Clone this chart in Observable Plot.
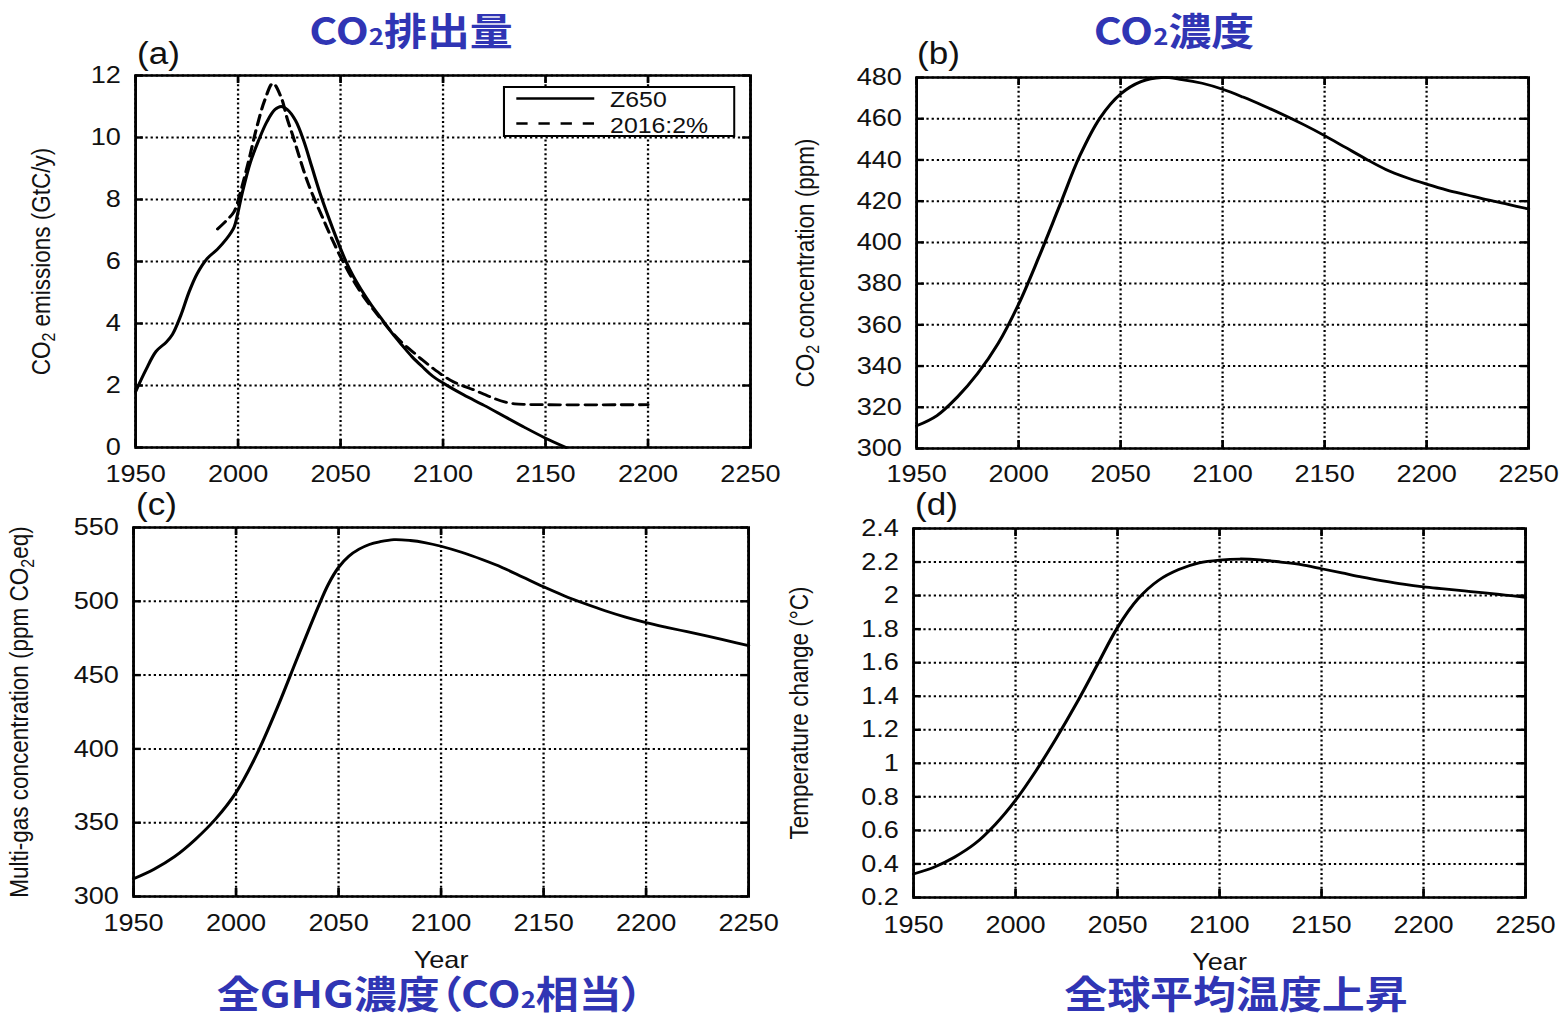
<!DOCTYPE html>
<html>
<head>
<meta charset="utf-8">
<script src="https://cdn.jsdelivr.net/npm/d3@7"></script>
<script src="https://cdn.jsdelivr.net/npm/@observablehq/plot@0.6"></script>
<style>
html, body { margin: 0; padding: 0; background: #fff; width: 1567px; height: 1016px; overflow: hidden; }
#page { position: absolute; left: 0; top: 0; width: 1387px; height: 1016px; transform-origin: 0 0; transform: scaleX(1.12978); }
.panel { position: absolute; }
.panel svg { overflow: visible; }
.title { position: absolute; width: 600px; text-align: center; font-family: "Noto Sans CJK JP", sans-serif; font-weight: 700; font-size: 38px; line-height: 1; color: #3035b4; white-space: nowrap; }
.title .sub { font-size: 0.6em; }
.letter { position: absolute; font-family: "Liberation Sans", Arial, sans-serif; font-size: 31px; line-height: 1; color: #111; }
</style>
</head>
<body>
<div id="page"></div>
<script>
// ---------------- DATA ----------------
const xTicks = [1950, 2000, 2050, 2100, 2150, 2200, 2250];
const yTicksA = [0, 2, 4, 6, 8, 10, 12];
const yTicksB = [300, 320, 340, 360, 380, 400, 420, 440, 460, 480];
const yTicksC = [300, 350, 400, 450, 500, 550];
const yTicksD = [0.2, 0.4, 0.6, 0.8, 1.0, 1.2, 1.4, 1.6, 1.8, 2.0, 2.2, 2.4];

const seriesNames = ["Z650", "2016:2%"];

// (a) CO2 emissions (GtC/y), scenario Z650 (solid)
const yearsZ650 = [1950, 1955, 1960, 1965, 1968, 1972, 1976, 1980, 1985, 1990, 1994, 1998, 2000, 2002, 2006, 2010, 2014, 2018, 2021, 2024, 2028, 2032, 2036, 2040, 2044, 2048, 2052, 2056, 2060, 2065, 2070, 2075, 2080, 2085, 2090, 2095, 2100, 2110, 2120, 2130, 2140, 2150, 2160];
const emisZ650  = [1.8, 2.5, 3.1, 3.4, 3.65, 4.25, 5.0, 5.6, 6.1, 6.4, 6.7, 7.1, 7.6, 8.2, 9.2, 9.9, 10.5, 10.9, 11.0, 10.9, 10.55, 9.9, 9.05, 8.2, 7.45, 6.75, 6.1, 5.55, 5.1, 4.6, 4.15, 3.7, 3.3, 2.92, 2.6, 2.3, 2.08, 1.7, 1.36, 1.0, 0.64, 0.3, 0.0];

// (a) CO2 emissions, scenario 2016:2% (dashed)
const years2016 = [1990, 1994, 1998, 2001, 2005, 2009, 2013, 2017, 2021, 2024, 2027, 2030, 2034, 2038, 2042, 2046, 2050, 2054, 2058, 2062, 2066, 2070, 2075, 2080, 2085, 2090, 2095, 2100, 2105, 2110, 2115, 2120, 2125, 2130, 2135, 2140, 2150, 2200];
const emis2016  = [7.05, 7.3, 7.6, 8.2, 9.2, 10.3, 11.2, 11.75, 11.3, 10.6, 10.0, 9.35, 8.55, 7.9, 7.3, 6.7, 6.15, 5.65, 5.2, 4.8, 4.45, 4.12, 3.72, 3.38, 3.1, 2.82, 2.56, 2.32, 2.12, 1.98, 1.86, 1.72, 1.58, 1.47, 1.41, 1.39, 1.38, 1.38];

// (b) CO2 concentration (ppm)
const yearsB = [1950, 1960, 1970, 1980, 1990, 2000, 2010, 2020, 2030, 2040, 2050, 2060, 2070, 2080, 2090, 2100, 2110, 2120, 2130, 2140, 2150, 2160, 2170, 2180, 2190, 2200, 2210, 2220, 2230, 2240, 2250];
const co2Conc = [311, 316, 325, 336.5, 351, 370, 393, 417.5, 442, 460.5, 472, 478, 480, 479, 477.2, 474.3, 470.5, 466.3, 461.8, 457, 451.8, 446.2, 440.6, 435.4, 431.5, 428.3, 425.4, 423, 420.6, 418.4, 416.2];

// (c) Multi-gas concentration (ppm CO2eq)
const yearsC = [1950, 1960, 1970, 1980, 1990, 2000, 2010, 2020, 2030, 2040, 2045, 2050, 2055, 2060, 2065, 2070, 2077, 2085, 2092, 2100, 2110, 2120, 2130, 2140, 2150, 2160, 2170, 2180, 2190, 2200, 2210, 2220, 2230, 2240, 2250];
const ghgConc = [312, 318.5, 327, 338.5, 352.5, 370.5, 396, 427.5, 462, 496, 511.5, 523, 530.5, 535.3, 538.5, 540.3, 541.8, 541.2, 539.8, 537.3, 533.2, 528.3, 522.8, 516.3, 509.8, 503.8, 498.5, 493.6, 489.3, 485.6, 482.4, 479.4, 476.4, 473.2, 470];

// (d) Temperature change (°C)
const yearsD = [1950, 1960, 1970, 1980, 1990, 2000, 2010, 2020, 2030, 2040, 2050, 2060, 2070, 2080, 2090, 2100, 2110, 2120, 2130, 2140, 2150, 2160, 2170, 2180, 2190, 2200, 2210, 2220, 2230, 2240, 2250];
const tempChange = [0.34, 0.38, 0.44, 0.52, 0.635, 0.78, 0.955, 1.15, 1.36, 1.585, 1.81, 1.98, 2.09, 2.155, 2.195, 2.212, 2.218, 2.213, 2.2, 2.185, 2.16, 2.135, 2.11, 2.088, 2.068, 2.052, 2.04, 2.028, 2.016, 2.003, 1.99];

// ---------------- DRAWING ----------------
const page = document.getElementById("page");
const zip = (xs, ys) => xs.map((x, i) => ({year: x, value: ys[i]}));

const gridStyle = {stroke: "#000", strokeOpacity: 1, strokeWidth: 2, strokeDasharray: "2,2.6"};
const tickStyle = {stroke: "#000", strokeWidth: 2.4};

function makePanel(o) {
  const plotW = o.width - o.mL - o.mR;
  const plotH = o.height - o.mT - o.mB;
  const marks = [
    Plot.gridX(xTicks, gridStyle),
    Plot.gridY(o.yTicks, gridStyle),
    Plot.tickY(o.yTicks, {y: d => d, insetRight: plotW - 7, ...tickStyle}),
    Plot.tickY(o.yTicks, {y: d => d, insetLeft: plotW - 7, ...tickStyle}),
    Plot.tickX(xTicks, {x: d => d, insetBottom: plotH - 8, ...tickStyle}),
    Plot.tickX(xTicks, {x: d => d, insetTop: plotH - 8, ...tickStyle}),
    Plot.axisX({ticks: xTicks, tickSize: 0, tickPadding: o.xPad, tickFormat: d => String(d),
      label: o.xLabel || null, labelAnchor: "center", labelOffset: o.xLabelOffset, labelArrow: "none"}),
    Plot.axisY({ticks: o.yTicks, tickSize: 0, tickPadding: 13, tickFormat: o.yFmt,
      label: o.yLabel, labelAnchor: "center", labelOffset: o.yLabelOffset, labelArrow: "none"}),
    ...o.series.map(s => Plot.line(s.data, {x: "year", y: "value", stroke: "#000", strokeWidth: 2.8,
      curve: "catmull-rom", strokeDasharray: s.dash || null})),
    Plot.frame({stroke: "#000", strokeWidth: 2.5})
  ];
  const svg = Plot.plot({
    width: o.width, height: o.height,
    marginLeft: o.mL, marginRight: o.mR, marginTop: o.mT, marginBottom: o.mB,
    x: {domain: [1950, 2250]},
    y: {domain: o.yDomain},
    style: {fontFamily: '"Liberation Sans", Arial, sans-serif', fontSize: "24px", color: "#111", background: "transparent", overflow: "visible"},
    marks
  });
  // y label: smaller font and real subscript for CO2
  svg.querySelectorAll('g[aria-label="y-axis label"] text').forEach(t => {
    const s = t.textContent;
    t.setAttribute("font-size", 22.5);
    t.style.fontSize = "22.5px";
    const i = s.indexOf("CO2");
    if (i < 0) return;
    t.textContent = "";
    const ns = "http://www.w3.org/2000/svg";
    const add = (txt, attrs) => {
      const ts = document.createElementNS(ns, "tspan");
      for (const k in attrs) ts.setAttribute(k, attrs[k]);
      ts.textContent = txt;
      t.appendChild(ts);
    };
    add(s.slice(0, i + 2), {});
    add("2", {"font-size": 16, dy: 5});
    add(s.slice(i + 3), {dy: -5});
  });
  const div = document.createElement("div");
  div.className = "panel";
  div.style.left = o.left + "px";
  div.style.top = o.top + "px";
  div.appendChild(svg);
  page.appendChild(div);
}

makePanel({left: 0, top: 40, width: 690, height: 460, mL: 119.5, mR: 26.2, mT: 35, mB: 53,
  yDomain: [0, 12], yTicks: yTicksA, yFmt: d => String(d), xPad: 17,
  yLabel: "CO2 emissions (GtC/y)", yLabelOffset: 92,
  series: [{data: zip(yearsZ650, emisZ650)}, {data: zip(years2016, emis2016), dash: "10,6"}]});

makePanel({left: 690, top: 40, width: 697, height: 460, mL: 120.8, mR: 34.5, mT: 37, mB: 52,
  yDomain: [300, 480], yTicks: yTicksB, yFmt: d => String(d), xPad: 16,
  yLabel: "CO2 concentration (ppm)", yLabelOffset: 107,
  series: [{data: zip(yearsB, co2Conc)}]});

makePanel({left: 0, top: 490, width: 690, height: 500, mL: 117.7, mR: 27.9, mT: 37, mB: 94,
  yDomain: [300, 550], yTicks: yTicksC, yFmt: d => String(d), xPad: 17,
  yLabel: "Multi-gas concentration (ppm CO2eq)", yLabelOffset: 109,
  xLabel: "Year", xLabelOffset: 71,
  series: [{data: zip(yearsC, ghgConc)}]});

makePanel({left: 690, top: 490, width: 697, height: 500, mL: 118.1, mR: 37.2, mT: 38, mB: 93,
  yDomain: [0.2, 2.4], yTicks: yTicksD, yFmt: d => String(+d.toFixed(1)), xPad: 18,
  yLabel: "Temperature change (°C)", yLabelOffset: 109,
  xLabel: "Year", xLabelOffset: 72,
  series: [{data: zip(yearsD, tempChange)}]});

// Legend for panel (a)
const ns = "http://www.w3.org/2000/svg";
const leg = document.createElementNS(ns, "svg");
leg.setAttribute("width", 206); leg.setAttribute("height", 51);
leg.style.position = "absolute"; leg.style.left = "445px"; leg.style.top = "86px";
leg.innerHTML = `
  <rect x="1" y="1" width="204" height="49" fill="#fff" stroke="#000" stroke-width="2"/>
  <line x1="12" x2="81" y1="12.5" y2="12.5" stroke="#000" stroke-width="2.6"/>
  <line x1="12" x2="81" y1="37.5" y2="37.5" stroke="#000" stroke-width="2.6" stroke-dasharray="10,9.6"/>
  <text x="95" y="21" font-family="Liberation Sans, Arial, sans-serif" font-size="22" fill="#111">${seriesNames[0]}</text>
  <text x="95" y="47" font-family="Liberation Sans, Arial, sans-serif" font-size="22" fill="#111">${seriesNames[1]}</text>`;
page.appendChild(leg);

// Panel letters
[["(a)", 121.3, 38], ["(b)", 811.7, 38], ["(c)", 120.4, 489], ["(d)", 809.9, 489]].forEach(([t, x, y]) => {
  const d = document.createElement("div");
  d.className = "letter"; d.textContent = t;
  d.style.left = x + "px"; d.style.top = y + "px";
  page.appendChild(d);
});

// Titles
[["CO<span class='sub'>2</span>排出量", 363.8, 10, false],
 ["CO<span class='sub'>2</span>濃度", 1039.1, 10, false],
 ["全GHG濃度（CO<span class='sub'>2</span>相当）", 380.6, 973, true],
 ["全球平均温度上昇", 1094, 973, false]].forEach(([h, cx, y, palt]) => {
  const d = document.createElement("div");
  d.className = "title"; d.innerHTML = h;
  d.style.left = (cx - 300) + "px"; d.style.top = y + "px";
  if (palt) d.style.fontFeatureSettings = '"palt"';
  page.appendChild(d);
});
</script>
</body>
</html>
